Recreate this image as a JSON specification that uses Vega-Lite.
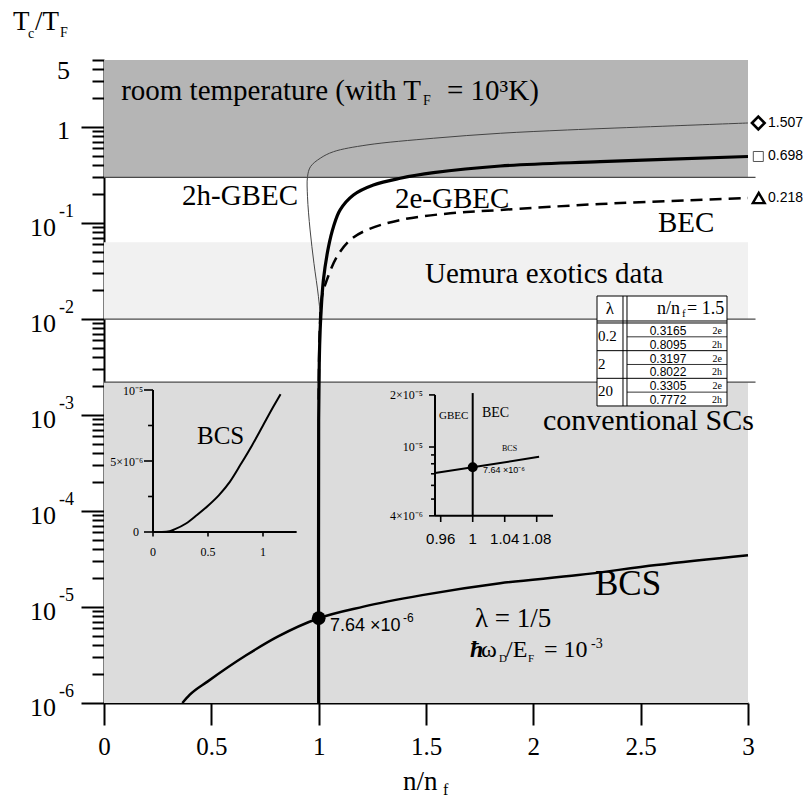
{
"$schema": "https://vega.github.io/schema/vega-lite/v6.json",
"width": 644, "height": 643, "autosize": "none",
"padding": {"left": 104, "top": 60, "right": 57, "bottom": 92},
"background": "white",
"config": {"view": {"stroke": null}, "text": {"font": "Liberation Serif", "color": "#000"}, "axis": {"zindex": 1}},
"datasets": {
"regions": [{"name": "room", "lo": 0.3, "hi": 5}, {"name": "uemura", "lo": 0.01, "hi": 0.063}, {"name": "conventional", "lo": 0.000001, "hi": 0.0022}],
"bounds": [{"v": 0.3}, {"v": 0.01}, {"v": 0.0022}],
"curves": [
{"series": "2h", "i": 0, "n": 1.0, "v": 0.00089},
{"series": "2h", "i": 1, "n": 1.004, "v": 0.00606},
{"series": "2h", "i": 2, "n": 1.007, "v": 0.0106},
{"series": "2h", "i": 3, "n": 0.999, "v": 0.0171},
{"series": "2h", "i": 4, "n": 0.978, "v": 0.0381},
{"series": "2h", "i": 5, "n": 0.96, "v": 0.0848},
{"series": "2h", "i": 6, "n": 0.948, "v": 0.188},
{"series": "2h", "i": 7, "n": 0.948, "v": 0.304},
{"series": "2h", "i": 8, "n": 0.962, "v": 0.387},
{"series": "2h", "i": 9, "n": 1.007, "v": 0.473},
{"series": "2h", "i": 10, "n": 1.069, "v": 0.554},
{"series": "2h", "i": 11, "n": 1.225, "v": 0.651},
{"series": "2h", "i": 12, "n": 1.534, "v": 0.765},
{"series": "2h", "i": 13, "n": 1.846, "v": 0.862},
{"series": "2h", "i": 14, "n": 2.159, "v": 0.933},
{"series": "2h", "i": 15, "n": 2.6, "v": 1.02},
{"series": "2h", "i": 16, "n": 3.0, "v": 1.1035},
{"series": "2e", "i": 0, "n": 1.0, "v": 0.000001},
{"series": "2e", "i": 1, "n": 1.0, "v": 0.00089},
{"series": "2e", "i": 2, "n": 1.003, "v": 0.00375},
{"series": "2e", "i": 3, "n": 1.007, "v": 0.0077},
{"series": "2e", "i": 4, "n": 1.01, "v": 0.0106},
{"series": "2e", "i": 5, "n": 1.022, "v": 0.0255},
{"series": "2e", "i": 6, "n": 1.046, "v": 0.0568},
{"series": "2e", "i": 7, "n": 1.069, "v": 0.0917},
{"series": "2e", "i": 8, "n": 1.1, "v": 0.137},
{"series": "2e", "i": 9, "n": 1.162, "v": 0.196},
{"series": "2e", "i": 10, "n": 1.255, "v": 0.249},
{"series": "2e", "i": 11, "n": 1.38, "v": 0.293},
{"series": "2e", "i": 12, "n": 1.535, "v": 0.335},
{"series": "2e", "i": 13, "n": 1.846, "v": 0.393},
{"series": "2e", "i": 14, "n": 2.312, "v": 0.436},
{"series": "2e", "i": 15, "n": 3.0, "v": 0.494},
{"series": "BEC", "i": 0, "n": 1.0, "v": 0.00144},
{"series": "BEC", "i": 1, "n": 1.005, "v": 0.0077},
{"series": "BEC", "i": 2, "n": 1.015, "v": 0.0171},
{"series": "BEC", "i": 3, "n": 1.038, "v": 0.0255},
{"series": "BEC", "i": 4, "n": 1.085, "v": 0.0447},
{"series": "BEC", "i": 5, "n": 1.147, "v": 0.0667},
{"series": "BEC", "i": 6, "n": 1.225, "v": 0.0848},
{"series": "BEC", "i": 7, "n": 1.38, "v": 0.1077},
{"series": "BEC", "i": 8, "n": 1.613, "v": 0.1265},
{"series": "BEC", "i": 9, "n": 1.846, "v": 0.1369},
{"series": "BEC", "i": 10, "n": 2.312, "v": 0.1581},
{"series": "BEC", "i": 11, "n": 3.0, "v": 0.1826},
{"series": "BCS", "i": 0, "n": 0.365, "v": 0.000001},
{"series": "BCS", "i": 1, "n": 0.4, "v": 0.00000122},
{"series": "BCS", "i": 2, "n": 0.482, "v": 0.00000167},
{"series": "BCS", "i": 3, "n": 0.664, "v": 0.00000316},
{"series": "BCS", "i": 4, "n": 0.809, "v": 0.00000491},
{"series": "BCS", "i": 5, "n": 1.0, "v": 0.00000764},
{"series": "BCS", "i": 6, "n": 1.209, "v": 0.0000101},
{"series": "BCS", "i": 7, "n": 1.482, "v": 0.0000133},
{"series": "BCS", "i": 8, "n": 1.845, "v": 0.0000177},
{"series": "BCS", "i": 9, "n": 2.209, "v": 0.0000215},
{"series": "BCS", "i": 10, "n": 2.573, "v": 0.0000274},
{"series": "BCS", "i": 11, "n": 3.0, "v": 0.0000347}
],
"limits": [{"series": "2h", "end": 1.1035, "limit": "1.507"}, {"series": "2e", "end": 0.494, "limit": "0.698"}, {"series": "BEC", "end": 0.1826, "limit": "0.218"}],
"yticks": [{"v": 5, "t": "5"}, {"v": 1, "t": "1"}, {"v": 0.1, "t": "10", "s": "-1"}, {"v": 0.01, "t": "10", "s": "-2"}, {"v": 0.001, "t": "10", "s": "-3"}, {"v": 0.0001, "t": "10", "s": "-4"}, {"v": 0.00001, "t": "10", "s": "-5"}, {"v": 0.000001, "t": "10", "s": "-6"}],
"bcsInset": [{"n": 0.08, "v": 0}, {"n": 0.15, "v": 0.00000005}, {"n": 0.2, "v": 0.0000002}, {"n": 0.3, "v": 0.0000006}, {"n": 0.4, "v": 0.0000012}, {"n": 0.5, "v": 0.00000185}, {"n": 0.6, "v": 0.0000026}, {"n": 0.7, "v": 0.00000355}, {"n": 0.8, "v": 0.0000048}, {"n": 0.9, "v": 0.0000061}, {"n": 1.0, "v": 0.0000075}, {"n": 1.1, "v": 0.0000089}, {"n": 1.16, "v": 0.0000097}],
"table": [{"row": 1, "lam": "0.2", "val": "0.3165", "kind": "2e"}, {"row": 2, "val": "0.8095", "kind": "2h"}, {"row": 3, "lam": "2", "val": "0.3197", "kind": "2e"}, {"row": 4, "val": "0.8022", "kind": "2h"}, {"row": 5, "lam": "20", "val": "0.3305", "kind": "2e"}, {"row": 6, "val": "0.7772", "kind": "2h"}]
},
"layer": [
{"layer": [
{"data": {"name": "regions"}, "mark": {"type": "rect"},
 "encoding": {"x": {"datum": 0, "type": "quantitative", "scale": {"domain": [0, 3], "nice": false, "zero": false}}, "x2": {"datum": 3},
 "y": {"field": "lo", "type": "quantitative", "scale": {"type": "log", "domain": [0.000001, 5], "nice": false}}, "y2": {"field": "hi"},
 "fill": {"field": "name", "type": "nominal", "scale": {"domain": ["room", "uemura", "conventional"], "range": ["#b5b5b5", "#f1f1f1", "#dcdcdc"]}, "legend": null}}},
{"data": {"name": "bounds"}, "mark": {"type": "rule", "stroke": "#4a4a4a", "strokeWidth": 1.2},
 "encoding": {"x": {"datum": 0, "type": "quantitative", "scale": {"domain": [0, 3], "nice": false, "zero": false}}, "x2": {"datum": 3.035},
 "y": {"field": "v", "type": "quantitative", "scale": {"type": "log", "domain": [0.000001, 5], "nice": false}}}},
{"data": {"name": "curves"}, "transform": [{"filter": "datum.series == '2h'"}], "mark": {"type": "line", "interpolate": "catmull-rom", "stroke": "#444444", "strokeWidth": 1},
 "encoding": {"x": {"field": "n", "type": "quantitative", "scale": {"domain": [0, 3], "nice": false, "zero": false},
   "axis": {"values": [0, 0.5, 1, 1.5, 2, 2.5, 3], "title": null, "grid": false, "tickSize": 22, "tickWidth": 2, "tickColor": "#000", "domainColor": "#000", "domainWidth": 2, "labelFont": "Liberation Serif", "labelFontSize": 25, "labelColor": "#000", "labelPadding": 9, "labelFlush": false, "labelOverlap": false, "labelExpr": "toString(datum.value)"}},
 "y": {"field": "v", "type": "quantitative", "scale": {"type": "log", "domain": [0.000001, 5], "nice": false},
   "axis": {"values": [0.000001, 0.000002, 0.000003, 0.000004, 0.000005, 0.000006, 0.000007, 0.000008, 0.000009, 0.00001, 0.00002, 0.00003, 0.00004, 0.00005, 0.00006, 0.00007, 0.00008, 0.00009, 0.0001, 0.0002, 0.0003, 0.0004, 0.0005, 0.0006, 0.0007, 0.0008, 0.0009, 0.001, 0.002, 0.003, 0.004, 0.005, 0.006, 0.007, 0.008, 0.009, 0.01, 0.02, 0.03, 0.04, 0.05, 0.06, 0.07, 0.08, 0.09, 0.1, 0.2, 0.3, 0.4, 0.5, 0.6, 0.7, 0.8, 0.9, 1, 2, 3, 4, 5],
   "title": null, "grid": false, "labels": false, "tickWidth": 2, "tickColor": "#000", "domainColor": "#000", "domainWidth": 2,
   "tickSize": {"condition": {"test": "datum.value == 0.000001 || datum.value == 0.00001 || datum.value == 0.0001 || datum.value == 0.001 || datum.value == 0.01 || datum.value == 0.1 || datum.value == 1", "value": 23}, "value": 12}}},
 "order": {"field": "i", "type": "quantitative"}}},
{"data": {"name": "curves"}, "transform": [{"filter": "datum.series == 'BEC'"}], "mark": {"type": "line", "interpolate": "catmull-rom", "stroke": "#000", "strokeWidth": 2.5, "strokeDash": [12, 7]},
 "encoding": {"x": {"field": "n", "type": "quantitative", "scale": {"domain": [0, 3], "nice": false, "zero": false}}, "y": {"field": "v", "type": "quantitative", "scale": {"type": "log", "domain": [0.000001, 5], "nice": false}}, "order": {"field": "i", "type": "quantitative"}}},
{"data": {"name": "curves"}, "transform": [{"filter": "datum.series == '2e'"}], "mark": {"type": "line", "interpolate": "catmull-rom", "stroke": "#000", "strokeWidth": 3.2},
 "encoding": {"x": {"field": "n", "type": "quantitative", "scale": {"domain": [0, 3], "nice": false, "zero": false}}, "y": {"field": "v", "type": "quantitative", "scale": {"type": "log", "domain": [0.000001, 5], "nice": false}}, "order": {"field": "i", "type": "quantitative"}}},
{"data": {"name": "curves"}, "transform": [{"filter": "datum.series == 'BCS'"}], "mark": {"type": "line", "interpolate": "monotone", "stroke": "#000", "strokeWidth": 2.5},
 "encoding": {"x": {"field": "n", "type": "quantitative", "scale": {"domain": [0, 3], "nice": false, "zero": false}}, "y": {"field": "v", "type": "quantitative", "scale": {"type": "log", "domain": [0.000001, 5], "nice": false}}, "order": {"field": "i", "type": "quantitative"}}},
{"data": {"values": [{"n": 1, "v": 0.00000764}]}, "mark": {"type": "point", "filled": true, "size": 190, "color": "#000", "opacity": 1},
 "encoding": {"x": {"field": "n", "type": "quantitative", "scale": {"domain": [0, 3], "nice": false, "zero": false}}, "y": {"field": "v", "type": "quantitative", "scale": {"type": "log", "domain": [0.000001, 5], "nice": false}}}},
{"data": {"name": "limits"}, "transform": [{"filter": "datum.series == '2h'"}], "mark": {"type": "point", "shape": "diamond", "size": 160, "strokeWidth": 2.6, "color": "#000", "filled": false, "opacity": 1},
 "encoding": {"x": {"datum": 3.048, "type": "quantitative", "scale": {"domain": [0, 3], "nice": false, "zero": false}}, "y": {"field": "end", "type": "quantitative", "scale": {"type": "log", "domain": [0.000001, 5], "nice": false}}}},
{"data": {"name": "limits"}, "transform": [{"filter": "datum.series == '2e'"}], "mark": {"type": "point", "shape": "square", "size": 100, "strokeWidth": 1, "color": "#555", "filled": false, "opacity": 1},
 "encoding": {"x": {"datum": 3.048, "type": "quantitative", "scale": {"domain": [0, 3], "nice": false, "zero": false}}, "y": {"field": "end", "type": "quantitative", "scale": {"type": "log", "domain": [0.000001, 5], "nice": false}}}},
{"data": {"name": "limits"}, "transform": [{"filter": "datum.series == 'BEC'"}], "mark": {"type": "point", "shape": "triangle-up", "size": 140, "strokeWidth": 2.4, "color": "#000", "filled": false, "opacity": 1},
 "encoding": {"x": {"datum": 3.05, "type": "quantitative", "scale": {"domain": [0, 3], "nice": false, "zero": false}}, "y": {"field": "end", "type": "quantitative", "scale": {"type": "log", "domain": [0.000001, 5], "nice": false}}}},
{"data": {"name": "limits"}, "mark": {"type": "text", "font": "Liberation Sans", "fontSize": 14, "align": "left", "baseline": "middle"},
 "encoding": {"x": {"datum": 3.093, "type": "quantitative", "scale": {"domain": [0, 3], "nice": false, "zero": false}}, "y": {"field": "end", "type": "quantitative", "scale": {"type": "log", "domain": [0.000001, 5], "nice": false}}, "text": {"field": "limit"}}},
{"data": {"values": [{"t": "room temperature (with T", "n": 1.4767, "v": 1.9156}]},
 "mark": {"type": "text", "fontSize": 29, "align": "right", "baseline": "alphabetic"},
 "encoding": {"x": {"field": "n", "type": "quantitative", "scale": {"domain": [0, 3], "nice": false, "zero": false}}, "y": {"field": "v", "type": "quantitative", "scale": {"type": "log", "domain": [0.000001, 5], "nice": false}}, "text": {"field": "t"}}},
{"data": {"values": [{"t": "= 10³K)", "n": 1.5978, "v": 1.9156}, {"t": "2h-GBEC", "n": 0.3634, "v": 0.1544}, {"t": "2e-GBEC", "n": 1.3556, "v": 0.1437}, {"t": "BEC", "n": 2.5808, "v": 0.0808}, {"t": "Uemura exotics data", "n": 1.4953, "v": 0.02377}]},
 "mark": {"type": "text", "fontSize": 29, "align": "left", "baseline": "alphabetic"},
 "encoding": {"x": {"field": "n", "type": "quantitative", "scale": {"domain": [0, 3], "nice": false, "zero": false}}, "y": {"field": "v", "type": "quantitative", "scale": {"type": "log", "domain": [0.000001, 5], "nice": false}}, "text": {"field": "t"}}},
{"data": {"values": [{"t": "conventional SCs", "n": 2.0451, "v": 0.0007}]},
 "mark": {"type": "text", "fontSize": 30, "align": "left", "baseline": "alphabetic"},
 "encoding": {"x": {"field": "n", "type": "quantitative", "scale": {"domain": [0, 3], "nice": false, "zero": false}}, "y": {"field": "v", "type": "quantitative", "scale": {"type": "log", "domain": [0.000001, 5], "nice": false}}, "text": {"field": "t"}}},
{"data": {"values": [{"t": "BCS", "n": 2.2873, "v": 0.00001337}]},
 "mark": {"type": "text", "fontSize": 35, "align": "left", "baseline": "alphabetic"},
 "encoding": {"x": {"field": "n", "type": "quantitative", "scale": {"domain": [0, 3], "nice": false, "zero": false}}, "y": {"field": "v", "type": "quantitative", "scale": {"type": "log", "domain": [0.000001, 5], "nice": false}}, "text": {"field": "t"}}},
{"data": {"values": [{"t": "λ = 1/5", "n": 1.7283, "v": 0.0000062}, {"t": "T", "n": -0.4239, "v": 10.27}, {"t": "/T", "n": -0.3214, "v": 10.27}, {"t": "n/n", "n": 1.3929, "v": 0.0000001244}]},
 "mark": {"type": "text", "fontSize": 27, "align": "left", "baseline": "alphabetic"},
 "encoding": {"x": {"field": "n", "type": "quantitative", "scale": {"domain": [0, 3], "nice": false, "zero": false}}, "y": {"field": "v", "type": "quantitative", "scale": {"type": "log", "domain": [0.000001, 5], "nice": false}}, "text": {"field": "t"}}},
{"data": {"values": [{"t": "ω", "n": 1.7562, "v": 0.00000302}, {"t": "/E", "n": 1.8726, "v": 0.00000302}, {"t": "= 10", "n": 2.0497, "v": 0.00000302}]},
 "mark": {"type": "text", "fontSize": 24, "align": "left", "baseline": "alphabetic"},
 "encoding": {"x": {"field": "n", "type": "quantitative", "scale": {"domain": [0, 3], "nice": false, "zero": false}}, "y": {"field": "v", "type": "quantitative", "scale": {"type": "log", "domain": [0.000001, 5], "nice": false}}, "text": {"field": "t"}}},
{"data": {"values": [{"t": "ħ", "n": 1.705, "v": 0.00000302}]},
 "mark": {"type": "text", "fontSize": 24, "fontStyle": "italic", "fontWeight": "bold", "align": "left", "baseline": "alphabetic"},
 "encoding": {"x": {"field": "n", "type": "quantitative", "scale": {"domain": [0, 3], "nice": false, "zero": false}}, "y": {"field": "v", "type": "quantitative", "scale": {"type": "log", "domain": [0.000001, 5], "nice": false}}, "text": {"field": "t"}}},
{"data": {"values": [{"t": "D", "n": 1.8399, "v": 0.00000268}, {"t": "F", "n": 1.9751, "v": 0.00000268}]},
 "mark": {"type": "text", "fontSize": 11, "align": "left", "baseline": "alphabetic"},
 "encoding": {"x": {"field": "n", "type": "quantitative", "scale": {"domain": [0, 3], "nice": false, "zero": false}}, "y": {"field": "v", "type": "quantitative", "scale": {"type": "log", "domain": [0.000001, 5], "nice": false}}, "text": {"field": "t"}}},
{"data": {"values": [{"t": "F", "n": 1.486, "v": 1.699}, {"t": "c", "n": -0.354, "v": 8.47}, {"t": "F", "n": -0.205, "v": 8.68}, {"t": "-3", "n": 2.2686, "v": 0.00000375}]},
 "mark": {"type": "text", "fontSize": 14, "align": "left", "baseline": "alphabetic"},
 "encoding": {"x": {"field": "n", "type": "quantitative", "scale": {"domain": [0, 3], "nice": false, "zero": false}}, "y": {"field": "v", "type": "quantitative", "scale": {"type": "log", "domain": [0.000001, 5], "nice": false}}, "text": {"field": "t"}}},
{"data": {"values": [{"t": "f", "n": 1.579, "v": 0.0000001104}]},
 "mark": {"type": "text", "fontSize": 16, "align": "left", "baseline": "alphabetic"},
 "encoding": {"x": {"field": "n", "type": "quantitative", "scale": {"domain": [0, 3], "nice": false, "zero": false}}, "y": {"field": "v", "type": "quantitative", "scale": {"type": "log", "domain": [0.000001, 5], "nice": false}}, "text": {"field": "t"}}},
{"data": {"values": [{"t": "7.64 ×10", "n": 1.0528, "v": 0.00000563}]},
 "mark": {"type": "text", "font": "Liberation Sans", "fontSize": 18, "align": "left", "baseline": "alphabetic"},
 "encoding": {"x": {"field": "n", "type": "quantitative", "scale": {"domain": [0, 3], "nice": false, "zero": false}}, "y": {"field": "v", "type": "quantitative", "scale": {"type": "log", "domain": [0.000001, 5], "nice": false}}, "text": {"field": "t"}}},
{"data": {"values": [{"t": "-6", "n": 1.393, "v": 0.000007}]},
 "mark": {"type": "text", "font": "Liberation Sans", "fontSize": 12, "align": "left", "baseline": "alphabetic"},
 "encoding": {"x": {"field": "n", "type": "quantitative", "scale": {"domain": [0, 3], "nice": false, "zero": false}}, "y": {"field": "v", "type": "quantitative", "scale": {"type": "log", "domain": [0.000001, 5], "nice": false}}, "text": {"field": "t"}}},
{"data": {"name": "yticks"}, "transform": [{"filter": "datum.s"}], "mark": {"type": "text", "fontSize": 26, "align": "right", "baseline": "middle", "dy": 5},
 "encoding": {"x": {"datum": -0.2236, "type": "quantitative", "scale": {"domain": [0, 3], "nice": false, "zero": false}}, "y": {"field": "v", "type": "quantitative", "scale": {"type": "log", "domain": [0.000001, 5], "nice": false}}, "text": {"field": "t"}}},
{"data": {"name": "yticks"}, "transform": [{"filter": "datum.s"}], "mark": {"type": "text", "fontSize": 18, "align": "left", "baseline": "middle", "dy": -11},
 "encoding": {"x": {"datum": -0.2096, "type": "quantitative", "scale": {"domain": [0, 3], "nice": false, "zero": false}}, "y": {"field": "v", "type": "quantitative", "scale": {"type": "log", "domain": [0.000001, 5], "nice": false}}, "text": {"field": "s"}}},
{"data": {"name": "yticks"}, "transform": [{"filter": "datum.v == 1"}], "mark": {"type": "text", "fontSize": 26, "align": "right", "baseline": "middle", "dy": 4},
 "encoding": {"x": {"datum": -0.1584, "type": "quantitative", "scale": {"domain": [0, 3], "nice": false, "zero": false}}, "y": {"field": "v", "type": "quantitative", "scale": {"type": "log", "domain": [0.000001, 5], "nice": false}}, "text": {"field": "t"}}},
{"data": {"name": "yticks"}, "transform": [{"filter": "datum.v == 5"}], "mark": {"type": "text", "fontSize": 26, "align": "right", "baseline": "middle", "dy": 11},
 "encoding": {"x": {"datum": -0.1584, "type": "quantitative", "scale": {"domain": [0, 3], "nice": false, "zero": false}}, "y": {"field": "v", "type": "quantitative", "scale": {"type": "log", "domain": [0.000001, 5], "nice": false}}, "text": {"field": "t"}}}
]},
{"layer": [
{"data": {"values": [{}]}, "mark": {"type": "rule", "stroke": "#000", "strokeWidth": 2},
 "encoding": {"x": {"datum": 0, "type": "quantitative", "scale": {"domain": [-0.44545, 5.40909], "nice": false, "zero": false}, "axis": null}, "y": {"datum": 0, "type": "quantitative", "scale": {"domain": [-0.0000120423, 0.0000332394], "nice": false, "zero": false}, "axis": null}, "y2": {"datum": 0.00001}}},
{"data": {"values": [{}]}, "mark": {"type": "rule", "stroke": "#000", "strokeWidth": 2},
 "encoding": {"x": {"datum": 0, "type": "quantitative", "scale": {"domain": [-0.44545, 5.40909], "nice": false, "zero": false}, "axis": null}, "x2": {"datum": 1.306}, "y": {"datum": 0, "type": "quantitative", "scale": {"domain": [-0.0000120423, 0.0000332394], "nice": false, "zero": false}, "axis": null}}},
{"data": {"values": [{"t": 0}, {"t": 0.000005}, {"t": 0.00001}]}, "mark": {"type": "rule", "stroke": "#000", "strokeWidth": 1.6},
 "encoding": {"x": {"datum": -0.082, "type": "quantitative", "scale": {"domain": [-0.44545, 5.40909], "nice": false, "zero": false}, "axis": null}, "x2": {"datum": 0}, "y": {"field": "t", "type": "quantitative", "scale": {"domain": [-0.0000120423, 0.0000332394], "nice": false, "zero": false}, "axis": null}}},
{"data": {"values": [{"t": 0.0000025}, {"t": 0.0000075}]}, "mark": {"type": "rule", "stroke": "#000", "strokeWidth": 1.6},
 "encoding": {"x": {"datum": -0.045, "type": "quantitative", "scale": {"domain": [-0.44545, 5.40909], "nice": false, "zero": false}, "axis": null}, "x2": {"datum": 0}, "y": {"field": "t", "type": "quantitative", "scale": {"domain": [-0.0000120423, 0.0000332394], "nice": false, "zero": false}, "axis": null}}},
{"data": {"values": [{"t": 0}, {"t": 0.5}, {"t": 1}]}, "mark": {"type": "rule", "stroke": "#000", "strokeWidth": 1.6},
 "encoding": {"x": {"field": "t", "type": "quantitative", "scale": {"domain": [-0.44545, 5.40909], "nice": false, "zero": false}, "axis": null}, "y": {"datum": 0, "type": "quantitative", "scale": {"domain": [-0.0000120423, 0.0000332394], "nice": false, "zero": false}, "axis": null}, "y2": {"datum": -0.00000032}}},
{"data": {"values": [{"t": 0.00001, "l": "10⁻⁵"}, {"t": 0.000005, "l": "5×10⁻⁶"}]}, "mark": {"type": "text", "fontSize": 12, "align": "right", "baseline": "middle", "dy": 1},
 "encoding": {"x": {"datum": -0.09, "type": "quantitative", "scale": {"domain": [-0.44545, 5.40909], "nice": false, "zero": false}, "axis": null}, "y": {"field": "t", "type": "quantitative", "scale": {"domain": [-0.0000120423, 0.0000332394], "nice": false, "zero": false}, "axis": null}, "text": {"field": "l"}}},
{"data": {"values": [{"t": 0, "l": "0"}]}, "mark": {"type": "text", "fontSize": 12, "align": "right", "baseline": "middle"},
 "encoding": {"x": {"datum": -0.127, "type": "quantitative", "scale": {"domain": [-0.44545, 5.40909], "nice": false, "zero": false}, "axis": null}, "y": {"field": "t", "type": "quantitative", "scale": {"domain": [-0.0000120423, 0.0000332394], "nice": false, "zero": false}, "axis": null}, "text": {"field": "l"}}},
{"data": {"values": [{"t": 0, "l": "0"}, {"t": 0.5, "l": "0.5"}, {"t": 1, "l": "1"}]}, "mark": {"type": "text", "fontSize": 12, "align": "center", "baseline": "middle"},
 "encoding": {"x": {"field": "t", "type": "quantitative", "scale": {"domain": [-0.44545, 5.40909], "nice": false, "zero": false}, "axis": null}, "y": {"datum": -0.000001408, "type": "quantitative", "scale": {"domain": [-0.0000120423, 0.0000332394], "nice": false, "zero": false}, "axis": null}, "text": {"field": "l"}}},
{"data": {"name": "bcsInset"}, "mark": {"type": "line", "interpolate": "monotone", "stroke": "#000", "strokeWidth": 2},
 "encoding": {"x": {"field": "n", "type": "quantitative", "scale": {"domain": [-0.44545, 5.40909], "nice": false, "zero": false}, "axis": null}, "y": {"field": "v", "type": "quantitative", "scale": {"domain": [-0.0000120423, 0.0000332394], "nice": false, "zero": false}, "axis": null}}},
{"data": {"values": [{"t": "BCS", "n": 0.4, "v": 0.0000062}]}, "mark": {"type": "text", "fontSize": 25, "align": "left", "baseline": "alphabetic"},
 "encoding": {"x": {"field": "n", "type": "quantitative", "scale": {"domain": [-0.44545, 5.40909], "nice": false, "zero": false}, "axis": null}, "y": {"field": "v", "type": "quantitative", "scale": {"domain": [-0.0000120423, 0.0000332394], "nice": false, "zero": false}, "axis": null}, "text": {"field": "t"}}}
]},
{"layer": [
{"data": {"values": [{}]}, "mark": {"type": "rule", "stroke": "#000", "strokeWidth": 2},
 "encoding": {"x": {"datum": 0.9529, "type": "quantitative", "scale": {"domain": [0.539125, 1.344125], "nice": false, "zero": false}, "axis": null}, "y": {"datum": 0.000004, "type": "quantitative", "scale": {"type": "log", "domain": [0.0000003313, 0.001726], "nice": false}, "axis": null}, "y2": {"datum": 0.00002}}},
{"data": {"values": [{}]}, "mark": {"type": "rule", "stroke": "#000", "strokeWidth": 2},
 "encoding": {"x": {"datum": 0.9529, "type": "quantitative", "scale": {"domain": [0.539125, 1.344125], "nice": false, "zero": false}, "axis": null}, "x2": {"datum": 1.1004}, "y": {"datum": 0.000004, "type": "quantitative", "scale": {"type": "log", "domain": [0.0000003313, 0.001726], "nice": false}, "axis": null}}},
{"data": {"values": [{}]}, "mark": {"type": "rule", "stroke": "#000", "strokeWidth": 2},
 "encoding": {"x": {"datum": 1, "type": "quantitative", "scale": {"domain": [0.539125, 1.344125], "nice": false, "zero": false}, "axis": null}, "y": {"datum": 0.000004, "type": "quantitative", "scale": {"type": "log", "domain": [0.0000003313, 0.001726], "nice": false}, "axis": null}, "y2": {"datum": 0.0000205}}},
{"data": {"values": [{"t": 0.00002}, {"t": 0.00001}, {"t": 0.000004}]}, "mark": {"type": "rule", "stroke": "#000", "strokeWidth": 1.6},
 "encoding": {"x": {"datum": 0.9454, "type": "quantitative", "scale": {"domain": [0.539125, 1.344125], "nice": false, "zero": false}, "axis": null}, "x2": {"datum": 0.9529}, "y": {"field": "t", "type": "quantitative", "scale": {"type": "log", "domain": [0.0000003313, 0.001726], "nice": false}, "axis": null}}},
{"data": {"values": [{"t": 0.000005}, {"t": 0.000006}, {"t": 0.000007}, {"t": 0.000008}, {"t": 0.000009}]}, "mark": {"type": "rule", "stroke": "#000", "strokeWidth": 1.6},
 "encoding": {"x": {"datum": 0.9479, "type": "quantitative", "scale": {"domain": [0.539125, 1.344125], "nice": false, "zero": false}, "axis": null}, "x2": {"datum": 0.9529}, "y": {"field": "t", "type": "quantitative", "scale": {"type": "log", "domain": [0.0000003313, 0.001726], "nice": false}, "axis": null}}},
{"data": {"values": [{"t": 0.96, "l": "0.96"}, {"t": 1, "l": "1"}, {"t": 1.04, "l": "1.04"}, {"t": 1.08, "l": "1.08"}]}, "mark": {"type": "rule", "stroke": "#000", "strokeWidth": 1.6},
 "encoding": {"x": {"field": "t", "type": "quantitative", "scale": {"domain": [0.539125, 1.344125], "nice": false, "zero": false}, "axis": null}, "y": {"datum": 0.000004, "type": "quantitative", "scale": {"type": "log", "domain": [0.0000003313, 0.001726], "nice": false}, "axis": null}, "y2": {"datum": 0.000003685}}},
{"data": {"values": [{"t": 0.96, "l": "0.96"}, {"t": 1, "l": "1"}, {"t": 1.04, "l": "1.04"}, {"t": 1.08, "l": "1.08"}]}, "mark": {"type": "text", "font": "Liberation Sans", "fontSize": 15, "align": "center", "baseline": "middle"},
 "encoding": {"x": {"field": "t", "type": "quantitative", "scale": {"domain": [0.539125, 1.344125], "nice": false, "zero": false}, "axis": null}, "y": {"datum": 0.000002938, "type": "quantitative", "scale": {"type": "log", "domain": [0.0000003313, 0.001726], "nice": false}, "axis": null}, "text": {"field": "l"}}},
{"data": {"values": [{"t": 0.00002, "l": "2×10⁻⁵"}, {"t": 0.00001, "l": "10⁻⁵"}, {"t": 0.000004, "l": "4×10⁻⁶"}]}, "mark": {"type": "text", "fontSize": 12, "align": "right", "baseline": "middle"},
 "encoding": {"x": {"datum": 0.9379, "type": "quantitative", "scale": {"domain": [0.539125, 1.344125], "nice": false, "zero": false}, "axis": null}, "y": {"field": "t", "type": "quantitative", "scale": {"type": "log", "domain": [0.0000003313, 0.001726], "nice": false}, "axis": null}, "text": {"field": "l"}}},
{"data": {"values": [{"n": 0.953, "v": 0.00000707}, {"n": 1.083, "v": 0.00000877}]}, "mark": {"type": "line", "stroke": "#000", "strokeWidth": 2},
 "encoding": {"x": {"field": "n", "type": "quantitative", "scale": {"domain": [0.539125, 1.344125], "nice": false, "zero": false}, "axis": null}, "y": {"field": "v", "type": "quantitative", "scale": {"type": "log", "domain": [0.0000003313, 0.001726], "nice": false}, "axis": null}}},
{"data": {"values": [{"n": 1, "v": 0.00000764}]}, "mark": {"type": "point", "filled": true, "size": 100, "color": "#000", "opacity": 1},
 "encoding": {"x": {"field": "n", "type": "quantitative", "scale": {"domain": [0.539125, 1.344125], "nice": false, "zero": false}, "axis": null}, "y": {"field": "v", "type": "quantitative", "scale": {"type": "log", "domain": [0.0000003313, 0.001726], "nice": false}, "axis": null}}},
{"data": {"values": [{"t": "GBEC", "n": 0.9579, "v": 0.00001452}]}, "mark": {"type": "text", "fontSize": 11, "align": "left", "baseline": "alphabetic"},
 "encoding": {"x": {"field": "n", "type": "quantitative", "scale": {"domain": [0.539125, 1.344125], "nice": false, "zero": false}, "axis": null}, "y": {"field": "v", "type": "quantitative", "scale": {"type": "log", "domain": [0.0000003313, 0.001726], "nice": false}, "axis": null}, "text": {"field": "t"}}},
{"data": {"values": [{"t": "BEC", "n": 1.0116, "v": 0.0000149}]}, "mark": {"type": "text", "fontSize": 14, "align": "left", "baseline": "alphabetic"},
 "encoding": {"x": {"field": "n", "type": "quantitative", "scale": {"domain": [0.539125, 1.344125], "nice": false, "zero": false}, "axis": null}, "y": {"field": "v", "type": "quantitative", "scale": {"type": "log", "domain": [0.0000003313, 0.001726], "nice": false}, "axis": null}, "text": {"field": "t"}}},
{"data": {"values": [{"t": "BCS", "n": 1.0366, "v": 0.00000948}]}, "mark": {"type": "text", "fontSize": 8, "align": "left", "baseline": "alphabetic"},
 "encoding": {"x": {"field": "n", "type": "quantitative", "scale": {"domain": [0.539125, 1.344125], "nice": false, "zero": false}, "axis": null}, "y": {"field": "v", "type": "quantitative", "scale": {"type": "log", "domain": [0.0000003313, 0.001726], "nice": false}, "axis": null}, "text": {"field": "t"}}},
{"data": {"values": [{"t": "7.64 ×10⁻⁶", "n": 1.0129, "v": 0.00000708}]}, "mark": {"type": "text", "font": "Liberation Sans", "fontSize": 9, "align": "left", "baseline": "alphabetic"},
 "encoding": {"x": {"field": "n", "type": "quantitative", "scale": {"domain": [0.539125, 1.344125], "nice": false, "zero": false}, "axis": null}, "y": {"field": "v", "type": "quantitative", "scale": {"type": "log", "domain": [0.0000003313, 0.001726], "nice": false}, "axis": null}, "text": {"field": "t"}}}
]},
{"layer": [
{"data": {"values": [{}]}, "mark": {"type": "rect", "fill": "white", "stroke": "#000", "strokeWidth": 1},
 "encoding": {"x": {"datum": 2.2966, "type": "quantitative", "scale": {"domain": [0, 3], "nice": false, "zero": false}, "axis": null}, "x2": {"datum": 2.9022}, "y": {"datum": -1.452, "type": "quantitative", "scale": {"domain": [-18.516, 27.976], "nice": false, "zero": false, "reverse": true}, "axis": null}, "y2": {"datum": 6.5}}},
{"data": {"values": [{}]}, "mark": {"type": "rule", "stroke": "#000", "strokeWidth": 1},
 "encoding": {"x": {"datum": 2.2966, "type": "quantitative", "scale": {"domain": [0, 3], "nice": false, "zero": false}, "axis": null}, "x2": {"datum": 2.9022}, "y": {"datum": 0.355, "type": "quantitative", "scale": {"domain": [-18.516, 27.976], "nice": false, "zero": false, "reverse": true}, "axis": null}}},
{"data": {"values": [{}]}, "mark": {"type": "rule", "stroke": "#000", "strokeWidth": 1},
 "encoding": {"x": {"datum": 2.2966, "type": "quantitative", "scale": {"domain": [0, 3], "nice": false, "zero": false}, "axis": null}, "x2": {"datum": 2.9022}, "y": {"datum": 0.5, "type": "quantitative", "scale": {"domain": [-18.516, 27.976], "nice": false, "zero": false, "reverse": true}, "axis": null}}},
{"data": {"values": [{}]}, "mark": {"type": "rule", "stroke": "#000", "strokeWidth": 1},
 "encoding": {"x": {"datum": 2.2966, "type": "quantitative", "scale": {"domain": [0, 3], "nice": false, "zero": false}, "axis": null}, "x2": {"datum": 2.9022}, "y": {"datum": 2.5, "type": "quantitative", "scale": {"domain": [-18.516, 27.976], "nice": false, "zero": false, "reverse": true}, "axis": null}}},
{"data": {"values": [{}]}, "mark": {"type": "rule", "stroke": "#000", "strokeWidth": 1},
 "encoding": {"x": {"datum": 2.2966, "type": "quantitative", "scale": {"domain": [0, 3], "nice": false, "zero": false}, "axis": null}, "x2": {"datum": 2.9022}, "y": {"datum": 4.5, "type": "quantitative", "scale": {"domain": [-18.516, 27.976], "nice": false, "zero": false, "reverse": true}, "axis": null}}},
{"data": {"values": [{}]}, "mark": {"type": "rule", "stroke": "#000", "strokeWidth": 1},
 "encoding": {"x": {"datum": 2.4177, "type": "quantitative", "scale": {"domain": [0, 3], "nice": false, "zero": false}, "axis": null}, "y": {"datum": -1.452, "type": "quantitative", "scale": {"domain": [-18.516, 27.976], "nice": false, "zero": false, "reverse": true}, "axis": null}, "y2": {"datum": 6.5}}},
{"data": {"values": [{}]}, "mark": {"type": "rule", "stroke": "#000", "strokeWidth": 1},
 "encoding": {"x": {"datum": 2.4363, "type": "quantitative", "scale": {"domain": [0, 3], "nice": false, "zero": false}, "axis": null}, "y": {"datum": -1.452, "type": "quantitative", "scale": {"domain": [-18.516, 27.976], "nice": false, "zero": false, "reverse": true}, "axis": null}, "y2": {"datum": 6.5}}},
{"data": {"name": "table"}, "transform": [{"filter": "datum.kind == '2e'"}], "mark": {"type": "rule", "stroke": "#000", "strokeWidth": 0.8, "yOffset": 6.9},
 "encoding": {"x": {"datum": 2.4363, "type": "quantitative", "scale": {"domain": [0, 3], "nice": false, "zero": false}, "axis": null}, "x2": {"datum": 2.9022}, "y": {"field": "row", "type": "quantitative", "scale": {"domain": [-18.516, 27.976], "nice": false, "zero": false, "reverse": true}, "axis": null}}},
{"data": {"values": [{"t": "λ", "c": 2.357}]}, "mark": {"type": "text", "fontSize": 17, "align": "center", "baseline": "middle"},
 "encoding": {"x": {"field": "c", "type": "quantitative", "scale": {"domain": [0, 3], "nice": false, "zero": false}, "axis": null}, "y": {"datum": -0.548, "type": "quantitative", "scale": {"domain": [-18.516, 27.976], "nice": false, "zero": false, "reverse": true}, "axis": null}, "text": {"field": "t"}}},
{"data": {"values": [{"t": "n/n", "c": 2.5765}, {"t": "= 1.5", "c": 2.7158}]}, "mark": {"type": "text", "fontSize": 18, "align": "left", "baseline": "middle"},
 "encoding": {"x": {"field": "c", "type": "quantitative", "scale": {"domain": [0, 3], "nice": false, "zero": false}, "axis": null}, "y": {"datum": -0.548, "type": "quantitative", "scale": {"domain": [-18.516, 27.976], "nice": false, "zero": false, "reverse": true}, "axis": null}, "text": {"field": "t"}}},
{"data": {"values": [{"t": "f", "c": 2.6925}]}, "mark": {"type": "text", "fontSize": 11, "align": "left", "baseline": "middle", "dy": 5},
 "encoding": {"x": {"field": "c", "type": "quantitative", "scale": {"domain": [0, 3], "nice": false, "zero": false}, "axis": null}, "y": {"datum": -0.548, "type": "quantitative", "scale": {"domain": [-18.516, 27.976], "nice": false, "zero": false, "reverse": true}, "axis": null}, "text": {"field": "t"}}},
{"data": {"name": "table"}, "mark": {"type": "text", "font": "Liberation Sans", "fontSize": 12, "align": "center", "baseline": "middle", "dy": 1},
 "encoding": {"x": {"datum": 2.6274, "type": "quantitative", "scale": {"domain": [0, 3], "nice": false, "zero": false}, "axis": null}, "y": {"field": "row", "type": "quantitative", "scale": {"domain": [-18.516, 27.976], "nice": false, "zero": false, "reverse": true}, "axis": null}, "text": {"field": "val"}}},
{"data": {"name": "table"}, "mark": {"type": "text", "fontSize": 10, "align": "right", "baseline": "middle", "dy": 1},
 "encoding": {"x": {"datum": 2.8788, "type": "quantitative", "scale": {"domain": [0, 3], "nice": false, "zero": false}, "axis": null}, "y": {"field": "row", "type": "quantitative", "scale": {"domain": [-18.516, 27.976], "nice": false, "zero": false, "reverse": true}, "axis": null}, "text": {"field": "kind"}}},
{"data": {"name": "table"}, "transform": [{"filter": "datum.lam"}], "mark": {"type": "text", "fontSize": 15, "align": "left", "baseline": "middle", "dy": 6},
 "encoding": {"x": {"datum": 2.3013, "type": "quantitative", "scale": {"domain": [0, 3], "nice": false, "zero": false}, "axis": null}, "y": {"field": "row", "type": "quantitative", "scale": {"domain": [-18.516, 27.976], "nice": false, "zero": false, "reverse": true}, "axis": null}, "text": {"field": "lam"}}}
]}
],
"resolve": {"scale": {"x": "independent", "y": "independent"}}
}
